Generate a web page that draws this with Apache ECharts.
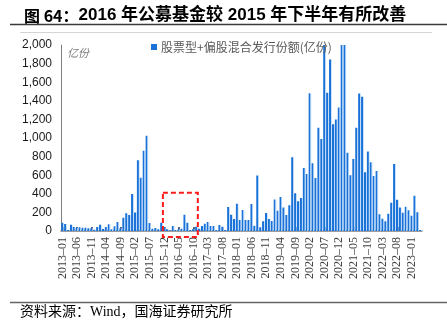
<!DOCTYPE html>
<html>
<head>
<meta charset="utf-8">
<script src="https://cdn.jsdelivr.net/npm/echarts@6/dist/echarts.min.js"></script>
<style>
  html, body { margin: 0; padding: 0; background: #fff; }
  #chart { width: 447px; height: 327px; }
</style>
</head>
<body>
<div id="chart"></div>
<script>
// Monthly issuance of equity + equity-leaning hybrid funds (亿份), one array per year
const issuance2013 = [89, 75, 10, 68, 43, 32, 39, 36, 36, 29, 29, 14];
const issuance2014 = [43, 68, 21, 43, 72, 18, 50, 97, 29, 143, 190, 172];
const issuance2015 = [398, 200, 760, 573, 863, 1024, 85, 25, 32, 18, 90, 40];
const issuance2016 = [18, 5, 54, 11, 20, 25, 176, 90, 11, 22, 47, 25];
const issuance2017 = [54, 79, 97, 54, 54, 11, 65, 47, 11, 258, 176, 130];
const issuance2018 = [294, 118, 226, 118, 118, 290, 57, 598, 39, 104, 194, 129];
const issuance2019 = [107, 340, 219, 365, 254, 172, 276, 792, 405, 319, 355, 677];
const issuance2020 = [613, 1480, 728, 570, 1111, 989, 2000, 1487, 1845, 1147, 1200, 1329];
const issuance2021 = [2000, 2000, 842, 600, 774, 1111, 1478, 1444, 631, 856, 738, 591];
const issuance2022 = [645, 181, 131, 104, 186, 303, 720, 335, 254, 195, 262, 224];
const issuance2023 = [165, 380, 201, 10];

const issuance = [].concat(issuance2013, issuance2014, issuance2015, issuance2016,
  issuance2017, issuance2018, issuance2019, issuance2020, issuance2021,
  issuance2022, issuance2023);

// Month categories, starting January 2013
const startYear = 2013;
const months = issuance.map((_, k) =>
  (startYear + Math.floor(k / 12)) + '-' + String(k % 12 + 1).padStart(2, '0'));

// Value axis range
const yMin = 0, yMax = 2000, yStep = 200;

// Highlighted period (dashed box) and its upper bound in 亿份
const boxFrom = '2015-12';
const boxTo = '2016-11';
const boxTop = 410;

const seriesName = '股票型+偏股混合发行份额(亿份)';
const titleLead = '图 64：';
const titleText = '2016 年公募基金较 2015 年下半年有所改善';
const sourceText = '资料来源：Wind，国海证券研究所';

const chart = echarts.init(document.getElementById('chart'), null, { renderer: 'canvas' });

const barFill = new echarts.graphic.LinearGradient(0, 0, 1, 0, [
  { offset: 0, color: '#1a72d8' },
  { offset: 0.62, color: '#1a72d8' },
  { offset: 0.7, color: '#a3cbf3' },
  { offset: 1, color: '#a3cbf3' }
]);

chart.setOption({
  animation: false,
  backgroundColor: '#fff',
  title: {
    text: '{a|' + titleLead + '}{b|' + titleText + '}',
    left: 19,
    top: 0,
    textStyle: {
      rich: {
        a: { fontFamily: '"Noto Sans CJK SC", "Liberation Sans"', fontSize: 16, fontWeight: 'bold', color: '#000', lineHeight: 21 },
        b: { fontFamily: '"Liberation Sans", "Noto Sans CJK SC"', fontSize: 17, fontWeight: 'bold', color: '#000', lineHeight: 21 }
      }
    }
  },
  legend: {
    data: [{ name: seriesName, itemStyle: { color: '#1a72d8' } }],
    left: 146,
    top: 36,
    icon: 'rect',
    itemWidth: 6,
    itemHeight: 6,
    itemGap: 4,
    textStyle: { fontFamily: '"Noto Sans CJK SC", sans-serif', fontSize: 12, color: '#595959', padding: [0, 0, 0, -1] }
  },
  grid: { left: 61, right: 25, top: 45, bottom: 96, containLabel: false },
  xAxis: {
    type: 'category',
    data: months,
    boundaryGap: true,
    axisLine: { show: true, lineStyle: { color: '#7f7f7f', width: 1.5 } },
    axisTick: { show: true, inside: true, alignWithLabel: true, interval: 4, length: 4, lineStyle: { color: '#1d3461', width: 1.5 } },
    axisLabel: {
      interval: 4,
      rotate: 90,
      margin: 6,
      fontFamily: '"Liberation Serif", serif',
      fontSize: 12,
      color: '#404040',
      formatter: s => s.replace('-', '–')
    },
    splitLine: { show: false }
  },
  yAxis: {
    type: 'value',
    min: yMin,
    max: yMax,
    interval: yStep,
    name: '亿份',
    nameLocation: 'end',
    nameGap: -13,
    nameTextStyle: { align: 'left', padding: [0, 0, 0, 6], fontStyle: 'italic', fontSize: 11, color: '#7f7f7f', fontFamily: '"Noto Sans CJK SC", sans-serif' },
    axisLine: { show: true, lineStyle: { color: '#7f7f7f', width: 1 } },
    axisTick: { show: false },
    splitLine: { show: false },
    axisLabel: {
      margin: 9,
      fontFamily: '"Liberation Sans", Arial, sans-serif',
      fontSize: 12,
      color: '#1a1a1a',
      formatter: v => v.toLocaleString('en-US')
    }
  },
  series: [{
    name: seriesName,
    type: 'bar',
    data: issuance,
    barWidth: '86%',
    itemStyle: { color: barFill },
    emphasis: { disabled: true }
  }],
  graphic: [
    { id: 'titleRule', type: 'line', shape: { x1: 10, y1: 24.5, x2: 447, y2: 24.5 }, style: { stroke: '#3a3a3a', lineWidth: 1.5 }, silent: true },
    { id: 'legendRule', type: 'line', shape: { x1: 20, y1: 32.5, x2: 432, y2: 32.5 }, style: { stroke: '#d4d4d4', lineWidth: 1 }, silent: true },
    { id: 'footRule', type: 'line', shape: { x1: 10, y1: 302.5, x2: 447, y2: 302.5 }, style: { stroke: '#666', lineWidth: 1.5 }, silent: true },
    { id: 'source', type: 'text', x: 20, y: 312, style: { text: sourceText, font: '14px "Liberation Serif", "Noto Sans CJK SC"', fill: '#000', verticalAlign: 'middle' }, silent: true }
  ]
});

// Dashed box around the highlighted months, placed through the chart's own axes
const iFrom = months.indexOf(boxFrom);
const iTo = months.indexOf(boxTo);
const band = chart.convertToPixel({ xAxisIndex: 0 }, 1) - chart.convertToPixel({ xAxisIndex: 0 }, 0);
const xLeft = chart.convertToPixel({ xAxisIndex: 0 }, iFrom) - band / 2;
const xRight = chart.convertToPixel({ xAxisIndex: 0 }, iTo) + band / 2;
const yTopPx = chart.convertToPixel({ yAxisIndex: 0 }, boxTop);
const yBasePx = chart.convertToPixel({ yAxisIndex: 0 }, 0) + 6;

chart.setOption({
  graphic: [{
    id: 'highlightBox',
    type: 'rect',
    shape: { x: xLeft, y: yTopPx, width: xRight - xLeft, height: yBasePx - yTopPx },
    style: { fill: 'none', stroke: '#ff1a1a', lineWidth: 2, lineDash: [5, 3] },
    z: 100,
    silent: true
  }]
});
</script>
</body>
</html>
